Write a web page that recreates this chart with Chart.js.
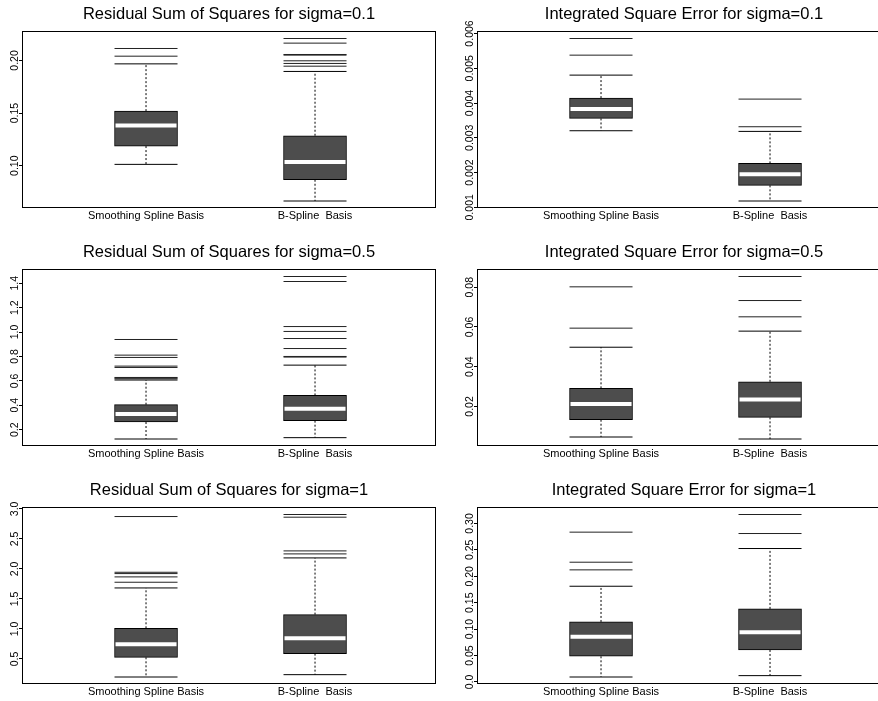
<!DOCTYPE html>
<html><head><meta charset="utf-8">
<script src="https://cdn.jsdelivr.net/npm/chart.js@4.4.1/dist/chart.umd.min.js"></script>
<style>
html,body{margin:0;padding:0;background:#fff;}
#wrap{position:relative;width:878px;height:701px;overflow:hidden;background:#fff;}
canvas{position:absolute;}
</style></head><body><div id="wrap"></div>
<script>
const categories = ["Smoothing Spline Basis", "B-Spline  Basis"];
const titles = [
  "Residual Sum of Squares for sigma=0.1",
  "Integrated Square Error for sigma=0.1",
  "Residual Sum of Squares for sigma=0.5",
  "Integrated Square Error for sigma=0.5",
  "Residual Sum of Squares for sigma=1",
  "Integrated Square Error for sigma=1"
];
// per panel: [Smoothing, B-Spline]
const lowerWhisker  = [[0.1013, 0.0665], [0.003203, 0.001182], [0.124, 0.135], [0.0046, 0.0036], [0.200, 0.239], [0.0094, 0.0120]];
const lowerQuartile = [[0.1187, 0.0867], [0.003557, 0.001632], [0.263, 0.274], [0.0133, 0.0145], [0.528, 0.589], [0.0486, 0.0606]];
const medians       = [[0.1383, 0.1035], [0.003826, 0.001948], [0.328, 0.372], [0.0212, 0.0235], [0.745, 0.846], [0.0858, 0.0941]];
const upperQuartile = [[0.1519, 0.1285], [0.004142, 0.002264], [0.405, 0.481], [0.0291, 0.0324], [1.011, 1.239], [0.1136, 0.1383]];
const upperWhisker  = [[0.1968, 0.1896], [0.004803, 0.003184], [0.607, 0.729], [0.0498, 0.0579], [1.683, 2.183], [0.1812, 0.2526]];
const outliers = [
  [[0.2041, 0.2114], [0.1946, 0.1972, 0.1997, 0.2051, 0.2057, 0.2165, 0.2209]],
  [[0.005377, 0.005856], [0.003318, 0.004113]],
  [[0.617, 0.623, 0.628, 0.710, 0.721, 0.792, 0.811, 0.939], [0.795, 0.800, 0.865, 0.947, 1.005, 1.045, 1.414, 1.455]],
  [[0.0594, 0.0802], [0.0651, 0.0733, 0.0854]],
  [[1.778, 1.867, 1.922, 1.944, 2.872], [2.250, 2.300, 2.861, 2.906]],
  [[0.2122, 0.2267, 0.2836], [0.281, 0.317]]
];
const yTicks = [
  [0.10, 0.15, 0.20],
  [0.001, 0.002, 0.003, 0.004, 0.005, 0.006],
  [0.2, 0.4, 0.6, 0.8, 1.0, 1.2, 1.4],
  [0.02, 0.04, 0.06, 0.08],
  [0.5, 1.0, 1.5, 2.0, 2.5, 3.0],
  [0.0, 0.05, 0.10, 0.15, 0.20, 0.25, 0.30]
];
const yTickLabels = [
  ["0.10", "0.15", "0.20"],
  ["0.001", "0.002", "0.003", "0.004", "0.005", "0.006"],
  ["0.2", "0.4", "0.6", "0.8", "1.0", "1.2", "1.4"],
  ["0.02", "0.04", "0.06", "0.08"],
  ["0.5", "1.0", "1.5", "2.0", "2.5", "3.0"],
  ["0.0", "0.05", "0.10", "0.15", "0.20", "0.25", "0.30"]
];

const FONT = '"Liberation Sans", Arial, Helvetica, sans-serif';
const panelPos = [[0,0],[455,0],[0,238],[455,238],[0,476],[455,476]];
const wrap = document.getElementById('wrap');

const framePlugin = {
  id: 'frame',
  afterDatasetsDraw(chart) {
    const {ctx, chartArea: a} = chart;
    ctx.save();
    ctx.strokeStyle = '#000';
    ctx.lineWidth = 1;
    const l = Math.round(a.left) - 0.5, t = Math.round(a.top) - 0.5;
    const r = Math.round(a.right) + 0.5, b = Math.round(a.bottom) - 0.5;
    ctx.strokeRect(l, t, r - l, b - t);
    ctx.restore();
  }
};

function makePanel(p) {
  const cv = document.createElement('canvas');
  cv.width = 439; cv.height = 225;
  cv.style.left = panelPos[p][0] + 'px';
  cv.style.top = panelPos[p][1] + 'px';
  wrap.appendChild(cv);

  const all = [].concat(lowerWhisker[p], upperWhisker[p], ...outliers[p]);
  const lo = Math.min(...all), hi = Math.max(...all), ext = (hi - lo) * 0.04;

  const mctx = cv.getContext('2d');
  mctx.font = '10.5px ' + FONT;
  const widest = Math.max(...yTickLabels[p].map(s => mctx.measureText(s).width));

  const boxData = categories.map((c, i) => ({x: i + 1, y: [lowerQuartile[p][i], upperQuartile[p][i]]}));
  const medData = categories.map((c, i) => ({x: i + 1, y: medians[p][i]}));
  const stapleData = [];
  const whiskerData = [];
  categories.forEach((c, i) => {
    stapleData.push({x: i + 1, y: lowerWhisker[p][i]}, {x: i + 1, y: upperWhisker[p][i]});
    whiskerData.push({x: i + 1, y: lowerQuartile[p][i]}, {x: i + 1, y: lowerWhisker[p][i]}, {x: i + 1, y: null},
                     {x: i + 1, y: upperQuartile[p][i]}, {x: i + 1, y: upperWhisker[p][i]}, {x: i + 1, y: null});
  });
  const outData = [];
  outliers[p].forEach((arr, i) => arr.forEach(v => outData.push({x: i + 1, y: v})));

  new Chart(cv, {
    type: 'bar',
    data: {datasets: [
      {type: 'scatter', data: medData, pointStyle: 'line', pointRadius: 30.5, pointBorderWidth: 4, pointBorderColor: '#fff', order: 0},
      {type: 'bar', data: boxData, backgroundColor: '#4d4d4d', borderColor: '#000', borderWidth: 1, barThickness: 63, borderSkipped: false, order: 1},
      {type: 'scatter', data: stapleData, pointStyle: 'line', pointRadius: 31.5, pointBorderWidth: 1, pointBorderColor: '#000', order: 2},
      {type: 'scatter', data: outData, pointStyle: 'line', pointRadius: 31.5, pointBorderWidth: 1, pointBorderColor: '#222', order: 2},
      {type: 'line', data: whiskerData, borderColor: '#000', borderWidth: 1, borderDash: [2, 2], pointRadius: 0, spanGaps: false, fill: false, order: 3}
    ]},
    options: {
      responsive: false, animation: false, events: [],
      layout: {autoPadding: false, padding: {left: 0, right: 4, top: 0, bottom: 0}},
      plugins: {
        legend: {display: false}, tooltip: {enabled: false},
        title: {display: true, text: titles[p], fullSize: false, color: '#000',
                font: {family: FONT, size: 16.5, weight: 'normal'}, padding: {top: 4.4, bottom: 7.8}}
      },
      scales: {
        x: {
          type: 'linear', min: 0.272, max: 2.71, offset: false, bounds: 'ticks',
          grid: {display: false, drawTicks: false, offset: false}, border: {display: false},
          afterBuildTicks: s => { s.ticks = categories.map((c, i) => ({value: i + 1})); },
          afterFit: s => { s.height = 17.5; },
          ticks: {autoSkip: false, maxRotation: 0, minRotation: 0, padding: 2, color: '#000',
                  font: {family: FONT, size: 11}, callback: v => categories[Math.round(v) - 1]}
        },
        y: {
          type: 'linear', min: lo - ext, max: hi + ext, beginAtZero: false,
          afterBuildTicks: s => { s.ticks = yTicks[p].map(v => ({value: v})); },
          afterFit: s => { s.width = 23; },
          grid: {drawOnChartArea: false, drawTicks: true, tickLength: 4, color: '#000'},
          border: {display: false},
          ticks: {autoSkip: false, minRotation: 90, maxRotation: 90, crossAlign: 'center',
                  padding: 7.5 - 4 - widest / 2, color: '#000',
                  font: {family: FONT, size: 10.5}, callback: (v, i) => yTickLabels[p][i]}
        }
      }
    },
    plugins: [framePlugin]
  });
}
for (let p = 0; p < 6; p++) makePanel(p);
</script>
</body></html>
